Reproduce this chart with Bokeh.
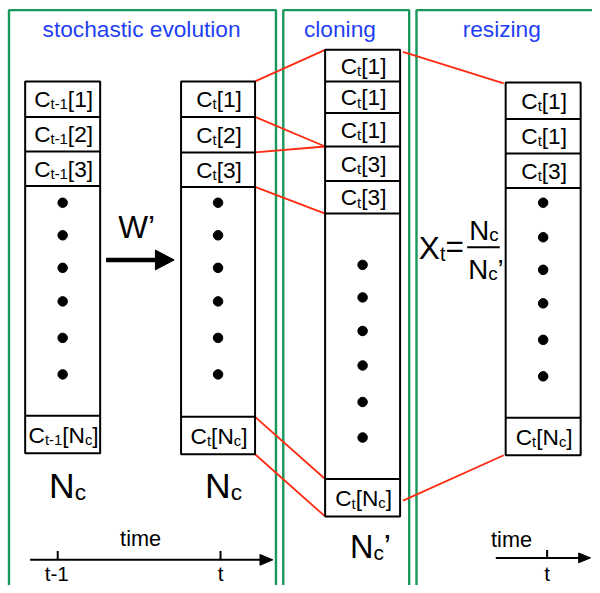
from bokeh.plotting import figure
from bokeh.models import ColumnDataSource, Range1d
from bokeh.embed import file_html
from bokeh.resources import INLINE
from bokeh.core.properties import value

# ---------------- content (texts / labels) ----------------
panel_titles = ["stochastic evolution", "cloning", "resizing"]
column_names = ["prev", "evolved", "cloned", "resized"]
column_subs = ["t-1", "t", "t", "t"]
column_indices = [["1", "2", "3"], ["1", "2", "3"], ["1", "1", "1", "3", "3"], ["1", "1", "3"]]
column_last_index = ["N_c", "N_c", "N_c", "N_c"]
column_size_label = ["N_c", "N_c", "N_c'", None]
time_ticks_panel1 = ["t-1", "t"]
time_ticks_panel3 = ["t"]
axis_title = "time"

# ---------------- layout (pixel geometry of the diagram) ----------------
FONT = "Liberation Sans"
BLUE = "#1f3ff5"
GREEN = "#19985c"
RED = "#ff2a10"
MAIN, SUB = 23, 15
SUBDY = 2.5
PW, PH = 592, 585          # figure size in screen px
DW, DH = 600.0, 593.0      # diagram coordinate space
S = PW / DW                # screen px per diagram unit
BASE_FIX = 0.34            # measured baseline offset of svg text (em)

panels_x = [(8.6, 279.2), (286.6, 414.2), (421.6, 612)]
panels_top = 9.8
title_x = [143, 344, 508]
title_y = 37

col_x = [(25, 101), (183, 258), (329, 405), (512, 588)]
col_rows = [[82, 118, 153, 188], [82, 118, 154, 189],
            [50, 82, 114, 148, 183, 216], [83, 120, 155, 190]]
col_last = [(421, 459), (422, 460), (485, 523), (423, 461)]
col_dots = [[205, 238, 271, 305, 342, 379], [205, 238, 271, 305, 342, 379],
            [268, 301, 335, 370, 407, 443], [205, 240, 273, 307, 344, 381]]
size_label_pos = [(68, 504, 36, 23), (226, 504, 36, 23), (375, 565, 33, 21)]

links = [((258, 82), (329, 50)), ((258, 118), (329, 148)), ((258, 154), (329, 148)),
         ((258, 189), (329, 216)), ((258, 422), (329, 485)), ((258, 460), (329, 523)),
         ((408, 52), (510, 84)), ((408, 507), (510, 461))]

ADV = {'C': 722, 'N': 722, 'X': 667, 'W': 944, 't': 278, '-': 333, '1': 556, '2': 556,
       '3': 556, '[': 278, ']': 278, 'c': 500, '’': 222, "'": 222, '=': 584, 'i': 222,
       'm': 833, 'e': 556, ' ': 278}


def tw(s, size):
    return sum(ADV.get(ch, 556) for ch in s) * size / 1000.0


texts = dict(x=[], y=[], text=[], size=[])


def put(segs, x, y, align="center"):
    total = sum(tw(s, sz) for s, sz, dy in segs)
    cx = x - total / 2 if align == "center" else x
    for s, sz, dy in segs:
        texts["x"].append(cx)
        texts["y"].append(y + dy - BASE_FIX * sz)
        texts["text"].append(s)
        texts["size"].append(f"{sz * S:.2f}px")
        cx += tw(s, sz)


def cell_segs(sub, idx):
    segs = [("C", MAIN, 0), (sub, SUB, SUBDY)]
    if idx == "N_c":
        segs += [("[N", MAIN, 0), ("c", SUB, SUBDY - 0.5), ("]", MAIN, 0)]
    else:
        segs += [("[" + idx + "]", MAIN, 0)]
    return segs


p = figure(width=PW, height=PH, x_range=Range1d(0, DW), y_range=Range1d(DH, 0),
           output_backend="svg", toolbar_location=None, min_border=0,
           x_axis_type=None, y_axis_type=None)
p.grid.visible = False
p.outline_line_color = None
p.background_fill_color = "white"

# panels
p.quad(left=[a for a, b in panels_x], right=[b for a, b in panels_x],
       top=[panels_top] * 3, bottom=[620] * 3, fill_color=None,
       line_color=GREEN, line_width=2.4)

# titles
for t, x in zip(panel_titles, title_x):
    texts_title = None
tt_y = [title_y - BASE_FIX * 23] * 3
p.text(x=title_x, y=tt_y, text=panel_titles, text_font=value(FONT),
       text_font_size=value(f"{23 * S:.2f}px"), text_color=BLUE, text_align="center",
       text_baseline="alphabetic")

# red links (under the columns)
p.segment(x0=[a[0] for a, b in links], y0=[a[1] for a, b in links],
          x1=[b[0] for a, b in links], y1=[b[1] for a, b in links],
          line_color=RED, line_width=1.8)

# columns
for k in range(4):
    x0, x1 = col_x[k]
    rows = col_rows[k]
    lt, lb = col_last[k]
    p.quad(left=[x0], right=[x1], top=[rows[0]], bottom=[lb], fill_color="white",
           line_color="black", line_width=2)
    ys = rows[1:] + [lt]
    p.segment(x0=[x0] * len(ys), x1=[x1] * len(ys), y0=ys, y1=ys,
              line_color="black", line_width=2)
    cx = (x0 + x1) / 2
    p.scatter(x=[cx] * len(col_dots[k]), y=col_dots[k], size=9.5, color="black")
    for i, idx in enumerate(column_indices[k]):
        c = (rows[i] + rows[i + 1]) / 2
        put(cell_segs(column_subs[k], idx), cx + 1, c + 8)
    put(cell_segs(column_subs[k], column_last_index[k]), cx + 1, (lt + lb) / 2 + 8.5)

# size labels N_c under columns
for k, lab in enumerate(column_size_label):
    if lab is None:
        continue
    x, y, big, small = size_label_pos[k]
    segs = [("N", big, 0), ("c", small, 2)]
    if lab.endswith("'"):
        segs.append(("’", big, 0))
    put(segs, x, y)

# W' arrow
put([("W", 32, 0), ("’", 32, 0)], 138, 240)
p.segment(x0=[107], y0=[263], x1=[160], y1=[263], line_color="black", line_width=4.5)
p.patch(x=[157, 176, 157], y=[253, 263, 273], color="black")

# formula X_t = N_c / N_c'
put([("X", 32, 0), ("t", 20, 2), ("=", 32, -2)], 424, 262, align="left")
put([("N", 28, 0), ("c", 19, 1)], 490, 243)
put([("N", 28, 0), ("c", 19, 1), ("’", 28, 0)], 492, 282)
p.segment(x0=[473], y0=[250], x1=[506], y1=[250], line_color="black", line_width=2)

# time axis, panel 1
p.segment(x0=[30], y0=[567], x1=[265], y1=[567], line_color="black", line_width=2)
p.patch(x=[263, 276, 263], y=[561.5, 567, 572.5], color="black")
p.segment(x0=[58, 223], y0=[558, 558], x1=[58, 223], y1=[567, 567],
          line_color="black", line_width=2)
put([(axis_title, 22, 0)], 142, 553)
for lab, x in zip(time_ticks_panel1, [57, 223]):
    put([(lab, 21, 0)], x, 588)

# time axis, panel 3
p.segment(x0=[502], y0=[565], x1=[588], y1=[565], line_color="black", line_width=2)
p.patch(x=[586, 598, 586], y=[560, 565, 570], color="black")
p.segment(x0=[554], y0=[557], x1=[554], y1=[565], line_color="black", line_width=2)
put([(axis_title, 22, 0)], 518, 554)
for lab in time_ticks_panel3:
    put([(lab, 21, 0)], 554, 588)

src = ColumnDataSource(texts)
p.text(x="x", y="y", text="text", source=src, text_font=value(FONT),
       text_font_size="size", text_color="black", text_align="left",
       text_baseline="alphabetic")

open("out.html", "w").write(file_html(p, INLINE))
